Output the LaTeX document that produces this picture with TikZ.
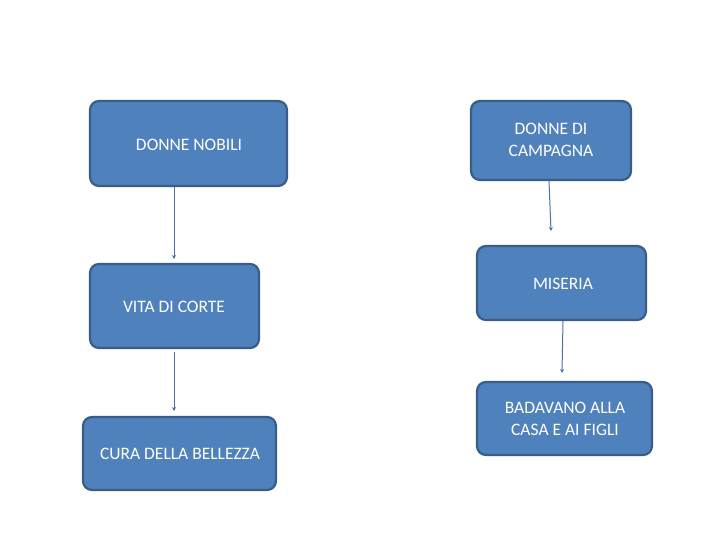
\documentclass[tikz,border=0pt]{standalone}
\usepackage{fontspec}
\setmainfont{Carlito}
\usetikzlibrary{arrows.meta}
\definecolor{boxfill}{HTML}{4F81BD}
\definecolor{boxline}{HTML}{385D8A}
\definecolor{connline}{HTML}{4A72A6}
\begin{document}
\begin{tikzpicture}[x=1pt,y=-1pt,
  box/.style={draw=boxline,line width=2.2pt,fill=boxfill,rounded corners=9pt},
  lbl/.style={text=white,font=\fontsize{17.5}{21.5}\selectfont,align=center,inner sep=0pt},
  conn/.style={draw=connline,line width=1pt,-{Stealth[length=4pt,width=4pt]}}]
\useasboundingbox (0,0) rectangle (720,540);
\fill[white] (0,0) rectangle (720,540);
% left column
\path[box] (90,101) rectangle (287,186);
\node[lbl] (a1) at (189,145) {DONNE NOBILI};
\coordinate (a1b) at (174,187);
\path[box] (90,264) rectangle (259,348);
\node[lbl] (a2) at (174,307) {VITA DI CORTE};
\coordinate (a2t) at (174,259);
\coordinate (a2b) at (174,352);
\path[box] (83,417) rectangle (276,490);
\node[lbl] (a3) at (180,454) {CURA DELLA BELLEZZA};
\coordinate (a3t) at (174,411);
% right column
\path[box] (471,101) rectangle (631,180);
\node[lbl] (b1) at (551,140) {DONNE DI\\CAMPAGNA};
\coordinate (b1b) at (549,181);
\path[box] (477,246) rectangle (646,320);
\node[lbl] (b2) at (563,284) {MISERIA};
\coordinate (b2t) at (551,231);
\coordinate (b2b) at (563,321);
\path[box] (477,382) rectangle (652,455);
\node[lbl] (b3) at (565,419) {BADAVANO ALLA\\CASA E AI FIGLI};
\coordinate (b3t) at (562,373);
% connectors
\draw[conn] (a1b) -- (a2t);
\draw[conn] (a2b) -- (a3t);
\draw[conn] (b1b) -- (b2t);
\draw[conn] (b2b) -- (b3t);
\end{tikzpicture}
\end{document}
